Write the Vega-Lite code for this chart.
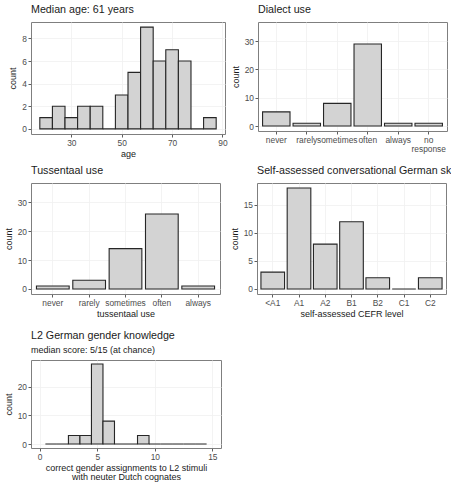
{
  "$schema": "https://vega.github.io/schema/vega-lite/v6.json",
  "background": "white",
  "padding": {"left": 3, "top": 3, "right": 0, "bottom": 0},
  "config": {
    "font": "Liberation Sans",
    "view": {"stroke": "#7f7f7f", "strokeWidth": 1},
    "title": {
      "fontSize": 10.7,
      "fontWeight": "normal",
      "color": "#1a1a1a",
      "anchor": "start",
      "frame": "group",
      "offset": 6,
      "subtitleFontSize": 9,
      "subtitleColor": "#1a1a1a",
      "subtitlePadding": 3
    },
    "axis": {
      "domain": false,
      "grid": true,
      "gridColor": "#f0f0f0",
      "gridWidth": 0.8,
      "tickColor": "#333333",
      "tickSize": 3,
      "tickWidth": 0.8,
      "labelFontSize": 8.4,
      "labelColor": "#4d4d4d",
      "labelPadding": 1.5,
      "labelOverlap": false,
      "labelFlush": false,
      "labelBound": false,
      "titleFontSize": 9,
      "titleFontWeight": "normal",
      "titleColor": "#1a1a1a"
    },
    "axisY": {"titlePadding": 4},
    "axisX": {"titlePadding": 3, "labelAngle": 0},
    "bar": {"fill": "#d3d3d3", "stroke": "#262626", "strokeWidth": 1.1}
  },
  "datasets": {
    "age": [
      {"lo": 17.5, "hi": 22.5, "count": 1},
      {"lo": 22.5, "hi": 27.5, "count": 2},
      {"lo": 27.5, "hi": 32.5, "count": 1},
      {"lo": 32.5, "hi": 37.5, "count": 2},
      {"lo": 37.5, "hi": 42.5, "count": 2},
      {"lo": 42.5, "hi": 47.5, "count": 0},
      {"lo": 47.5, "hi": 52.5, "count": 3},
      {"lo": 52.5, "hi": 57.5, "count": 5},
      {"lo": 57.5, "hi": 62.5, "count": 9},
      {"lo": 62.5, "hi": 67.5, "count": 6},
      {"lo": 67.5, "hi": 72.5, "count": 7},
      {"lo": 72.5, "hi": 77.5, "count": 6},
      {"lo": 77.5, "hi": 82.5, "count": 0},
      {"lo": 82.5, "hi": 87.5, "count": 1}
    ],
    "dialect": [
      {"response": "never", "count": 5},
      {"response": "rarely", "count": 1},
      {"response": "sometimes", "count": 8},
      {"response": "often", "count": 29},
      {"response": "always", "count": 1},
      {"response": "no response", "count": 1}
    ],
    "tussentaal": [
      {"response": "never", "count": 1},
      {"response": "rarely", "count": 3},
      {"response": "sometimes", "count": 14},
      {"response": "often", "count": 26},
      {"response": "always", "count": 1}
    ],
    "german": [
      {"level": "<A1", "count": 3},
      {"level": "A1", "count": 18},
      {"level": "A2", "count": 8},
      {"level": "B1", "count": 12},
      {"level": "B2", "count": 2},
      {"level": "C1", "count": 0},
      {"level": "C2", "count": 2}
    ],
    "gender": [
      {"lo": 0.5, "hi": 1.5, "count": 0},
      {"lo": 1.5, "hi": 2.5, "count": 0},
      {"lo": 2.5, "hi": 3.5, "count": 3},
      {"lo": 3.5, "hi": 4.5, "count": 3},
      {"lo": 4.5, "hi": 5.5, "count": 28},
      {"lo": 5.5, "hi": 6.5, "count": 8},
      {"lo": 6.5, "hi": 7.5, "count": 0},
      {"lo": 7.5, "hi": 8.5, "count": 0},
      {"lo": 8.5, "hi": 9.5, "count": 3},
      {"lo": 9.5, "hi": 10.5, "count": 0},
      {"lo": 10.5, "hi": 11.5, "count": 0},
      {"lo": 11.5, "hi": 12.5, "count": 0},
      {"lo": 12.5, "hi": 13.5, "count": 0},
      {"lo": 13.5, "hi": 14.5, "count": 0}
    ]
  },
  "spacing": 9,
  "vconcat": [
    {
      "spacing": 4,
      "vconcat": [
        {
          "spacing": 2,
          "hconcat": [
            {
              "title": "Median age: 61 years",
              "width": 194,
              "height": 112,
              "data": {"name": "age"},
              "mark": "bar",
              "encoding": {
                "x": {"field": "lo", "type": "quantitative", "scale": {"domain": [14, 91], "nice": false, "zero": false}, "axis": {"title": "age", "values": [30, 50, 70, 90]}},
                "x2": {"field": "hi"},
                "y": {"field": "count", "type": "quantitative", "scale": {"domain": [-0.45, 9.45], "nice": false, "zero": false}, "axis": {"title": "count", "values": [0, 2, 4, 6, 8]}},
                "y2": {"datum": 0}
              }
            },
            {
              "title": "Dialect use",
              "width": 189,
              "height": 109,
              "data": {"name": "dialect"},
              "mark": "bar",
              "encoding": {
                "x": {"field": "response", "type": "nominal", "sort": null, "scale": {"paddingInner": 0.1, "paddingOuter": 0.15}, "axis": {"title": null, "labelLineHeight": 9, "labelExpr": "datum.label == 'no response' ? ['no', 'response'] : datum.label"}},
                "y": {"field": "count", "type": "quantitative", "scale": {"domain": [-1.75, 36.75], "nice": false, "zero": false}, "axis": {"title": "count", "values": [0, 10, 20, 30]}},
                "y2": {"datum": 0}
              }
            }
          ]
        },
        {
          "spacing": 8,
          "hconcat": [
            {
              "title": "Tussentaal use",
              "width": 189,
              "height": 111,
              "data": {"name": "tussentaal"},
              "mark": "bar",
              "encoding": {
                "x": {"field": "response", "type": "nominal", "sort": null, "scale": {"paddingInner": 0.1, "paddingOuter": 0.15}, "axis": {"title": "tussentaal use"}},
                "y": {"field": "count", "type": "quantitative", "scale": {"domain": [-1.75, 36.75], "nice": false, "zero": false}, "axis": {"title": "count", "values": [0, 10, 20, 30]}},
                "y2": {"datum": 0}
              }
            },
            {
              "title": "Self-assessed conversational German skills",
              "width": 189,
              "height": 111,
              "data": {"name": "german"},
              "mark": "bar",
              "encoding": {
                "x": {"field": "level", "type": "nominal", "sort": null, "scale": {"paddingInner": 0.1, "paddingOuter": 0.15}, "axis": {"title": "self-assessed CEFR level"}},
                "y": {"field": "count", "type": "quantitative", "scale": {"domain": [-0.9, 18.9], "nice": false, "zero": false}, "axis": {"title": "count", "values": [0, 5, 10, 15]}},
                "y2": {"datum": 0}
              }
            }
          ]
        }
      ]
    },
    {
      "title": {"text": "L2 German gender knowledge", "subtitle": "median score: 5/15 (at chance)", "offset": 4, "subtitlePadding": 4},
      "width": 190,
      "height": 88,
      "data": {"name": "gender"},
      "mark": "bar",
      "encoding": {
        "x": {"field": "lo", "type": "quantitative", "scale": {"domain": [-0.75, 15.75], "nice": false, "zero": false}, "axis": {"title": ["correct gender assignments to L2 stimuli", "with neuter Dutch cognates"], "titleLineHeight": 9, "values": [0, 5, 10, 15]}},
        "x2": {"field": "hi"},
        "y": {"field": "count", "type": "quantitative", "scale": {"domain": [-1.4, 29.4], "nice": false, "zero": false}, "axis": {"title": "count", "values": [0, 10, 20]}},
        "y2": {"datum": 0}
      }
    }
  ]
}
